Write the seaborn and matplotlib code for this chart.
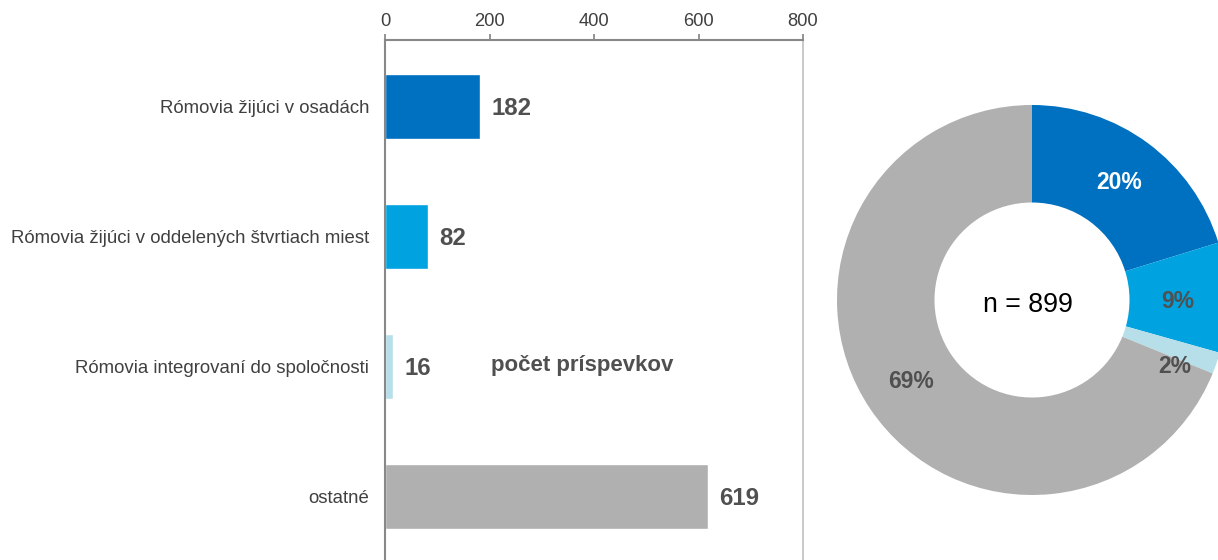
import matplotlib
matplotlib.use("Agg")
import matplotlib.pyplot as plt
import seaborn as sns
import pandas as pd

categories = ["Rómovia žijúci v osadách",
              "Rómovia žijúci v oddelených štvrtiach miest",
              "Rómovia integrovaní do spoločnosti",
              "ostatné"]
counts = [182, 82, 16, 619]
colors = ["#0070C0", "#00A3E0", "#B7DFE9", "#B0B0B0"]
xticks = [0, 200, 400, 600, 800]
center_text = "n = 899"
axis_title = "počet príspevkov"

sns.set_theme(style="white")
plt.rcParams['font.family'] = ['Liberation Sans', 'DejaVu Sans']

fig = plt.figure(figsize=(12.18, 5.6), dpi=100)
W, H = 1218, 560

# Bar chart
ax = fig.add_axes([385 / W, -2 / H, (803 - 385) / W, (562 - 40) / H])
df = pd.DataFrame({"cat": categories, "val": counts})
sns.barplot(data=df, y="cat", x="val", hue="cat", palette=colors,
            orient="h", width=0.5, legend=False, ax=ax, saturation=1)
ax.set_xlim(0, 800)
ax.set_ylim(3.5, -0.515)
ax.xaxis.tick_top()
ax.set_xticks(xticks)
ax.set_xticklabels([str(t) for t in xticks], fontsize=13.2, color="#404040")
ax.tick_params(axis="x", direction="out", length=4, width=1.2, color="#808080", pad=3)
ax.tick_params(axis="y", length=0, pad=11.5, labelsize=13.4, labelcolor="#404040")
ax.set_xlabel("")
ax.set_ylabel("")
ax.spines["bottom"].set_visible(False)
ax.spines["top"].set_color("#888888")
ax.spines["top"].set_linewidth(1.5)
ax.spines["left"].set_color("#888888")
ax.spines["left"].set_linewidth(1.5)
ax.spines["right"].set_color("#C0C0C0")
ax.spines["right"].set_linewidth(1.2)
for i, v in enumerate(counts):
    ax.text(v + 21, i + 0.01, str(v), va="center", ha="left", fontsize=17.3,
            fontweight="bold", color="#505050")
ax.text(0.472, 0.376, axis_title, transform=ax.transAxes, ha="center", va="center",
        fontsize=16, fontweight="bold", color="#505050")

# Donut
cx, cy, r = 1032, 300, 195
pax = fig.add_axes([(cx - r) / W, (H - cy - r) / H, 2 * r / W, 2 * r / H])
wedges, texts, autotexts = pax.pie(
    counts, colors=colors, startangle=90, counterclock=False, radius=1,
    wedgeprops=dict(width=0.5, linewidth=0),
    autopct=lambda p: f"{p:.0f}%", pctdistance=0.75)
for i, t in enumerate(autotexts):
    t.set_fontsize(16.5)
    t.set_fontweight("bold")
    t.set_color("white" if i == 0 else "#505050")
x9, y9 = autotexts[1].get_position()
autotexts[1].set_position((x9, y9 - 0.015))
autotexts[2].set_position((0.73, -0.34))
pax.set_xlim(-1, 1)
pax.set_ylim(-1, 1)
pax.set_aspect("equal")
pax.text(-0.02, -0.025, center_text, ha="center", va="center", fontsize=19.3, color="black")

fig.savefig("out.png", dpi=100)
